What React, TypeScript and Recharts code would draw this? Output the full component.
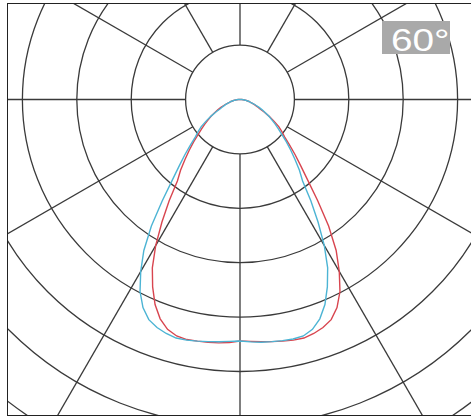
import { RadarChart, Radar, PolarGrid, PolarAngleAxis, PolarRadiusAxis } from "recharts";

// gamma angle of each sample, 0 = straight down, positive to the right
const gammaAngles: number[] = [];
for (let g = -180; g < 180; g += 2.5) gammaAngles.push(g);

const upperZeros = (n: number) => new Array(n).fill(0);

// intensity in grid rings (1 ring = one circle of the grid), gamma -87.5 .. 87.5
const blueLower = [
  0.03, 0.06, 0.1, 0.13, 0.17, 0.2, 0.24, 0.29, 0.34, 0.4, 0.5, 0.62, 0.74, 0.87, 0.97, 1.07, 1.23, 1.43,
  1.65, 1.94, 2.35, 2.84, 3.29, 3.65, 3.98, 4.22, 4.38, 4.46, 4.51, 4.54, 4.53, 4.51, 4.49, 4.47, 4.45,
  4.44,
  4.46, 4.48, 4.49, 4.5, 4.51, 4.5, 4.43, 4.29, 4.08, 3.8, 3.49, 3.1, 2.67, 2.27, 1.89, 1.7, 1.5, 1.32,
  1.16, 1.01, 0.89, 0.79, 0.69, 0.61, 0.52, 0.45, 0.38, 0.31, 0.26, 0.2, 0.17, 0.13, 0.1, 0.06, 0.03,
];

const redLower = [
  0.03, 0.06, 0.1, 0.13, 0.17, 0.2, 0.26, 0.31, 0.38, 0.45, 0.52, 0.61, 0.69, 0.79, 0.89, 1.01, 1.16, 1.32,
  1.5, 1.7, 1.89, 2.27, 2.67, 3.1, 3.49, 3.8, 4.08, 4.29, 4.43, 4.5, 4.52, 4.51, 4.5, 4.49, 4.47,
  4.44,
  4.45, 4.47, 4.49, 4.51, 4.53, 4.54, 4.51, 4.46, 4.38, 4.22, 3.98, 3.65, 3.29, 2.84, 2.35, 1.94, 1.65,
  1.43, 1.23, 1.07, 0.97, 0.87, 0.74, 0.62, 0.5, 0.4, 0.34, 0.29, 0.24, 0.2, 0.17, 0.13, 0.1, 0.06, 0.03,
];

// nothing is emitted upward: gamma -180..-90 and 90..177.5 are zero
const blueCurve = [...upperZeros(37), ...blueLower, ...upperZeros(36)];
const redCurve = [...upperZeros(37), ...redLower, ...upperZeros(36)];

const ringCount = 8;
const spokeAngles = [0, 30, 60, 90, 120, 150, 180, 210, 240, 270, 300, 330];
const badgeText = "60°";

const RING = 54.4;

const rows = gammaAngles.map((g, i) => ({ gamma: g, blue: blueCurve[i], red: redCurve[i] }));
const ringRadii = Array.from({ length: ringCount }, (_, i) => RING * (i + 1));

export default function App() {
  return (
    <div
      style={{
        position: "fixed",
        left: 0,
        top: 0,
        width: 471,
        height: 418,
        overflow: "hidden",
        background: "#fff",
      }}
    >
      <div
        style={{
          position: "absolute",
          left: 7,
          top: 3,
          width: 470,
          height: 411,
          borderLeft: "1.5px solid #222",
          borderTop: "1.5px solid #222",
          borderBottom: "1.5px solid #222",
          overflow: "hidden",
        }}
      >
        <RadarChart
          width={464}
          height={411}
          data={rows}
          cx={232}
          cy={95.5}
          innerRadius={RING}
          outerRadius={RING * ringCount}
          startAngle={-270}
          endAngle={90}
          margin={{ top: 0, right: 0, bottom: 0, left: 0 }}
        >
          <PolarGrid
            gridType="circle"
            polarRadius={ringRadii}
            polarAngles={spokeAngles}
            stroke="#3a3a3a"
            strokeWidth={1.3}
          />
          <PolarAngleAxis
            dataKey="gamma"
            type="number"
            domain={[-180, 180]}
            tick={false}
            axisLine={false}
            tickLine={false}
          />
          <PolarRadiusAxis
            domain={[1, ringCount]}
            allowDataOverflow
            tick={false}
            axisLine={false}
            tickLine={false}
          />
          <Radar
            dataKey="red"
            stroke="#d8454f"
            strokeWidth={1.4}
            fill="none"
            fillOpacity={0}
            dot={false}
            isAnimationActive={false}
          />
          <Radar
            dataKey="blue"
            stroke="#4cb4d4"
            strokeWidth={1.4}
            fill="none"
            fillOpacity={0}
            dot={false}
            isAnimationActive={false}
          />
        </RadarChart>
        <div
          style={{
            position: "absolute",
            left: 373.5,
            top: 17.2,
            width: 68,
            height: 32.5,
            background: "#a9a9a9",
          }}
        >
          <span
            style={{
              position: "absolute",
              left: 9.5,
              top: 4.3,
              fontFamily: "'Liberation Sans', Arial, sans-serif",
              fontSize: 31,
              lineHeight: "31px",
              color: "#fff",
              whiteSpace: "nowrap",
              transform: "scaleX(1.25)",
              transformOrigin: "left top",
            }}
          >
            {badgeText}
          </span>
        </div>
      </div>
    </div>
  );
}
